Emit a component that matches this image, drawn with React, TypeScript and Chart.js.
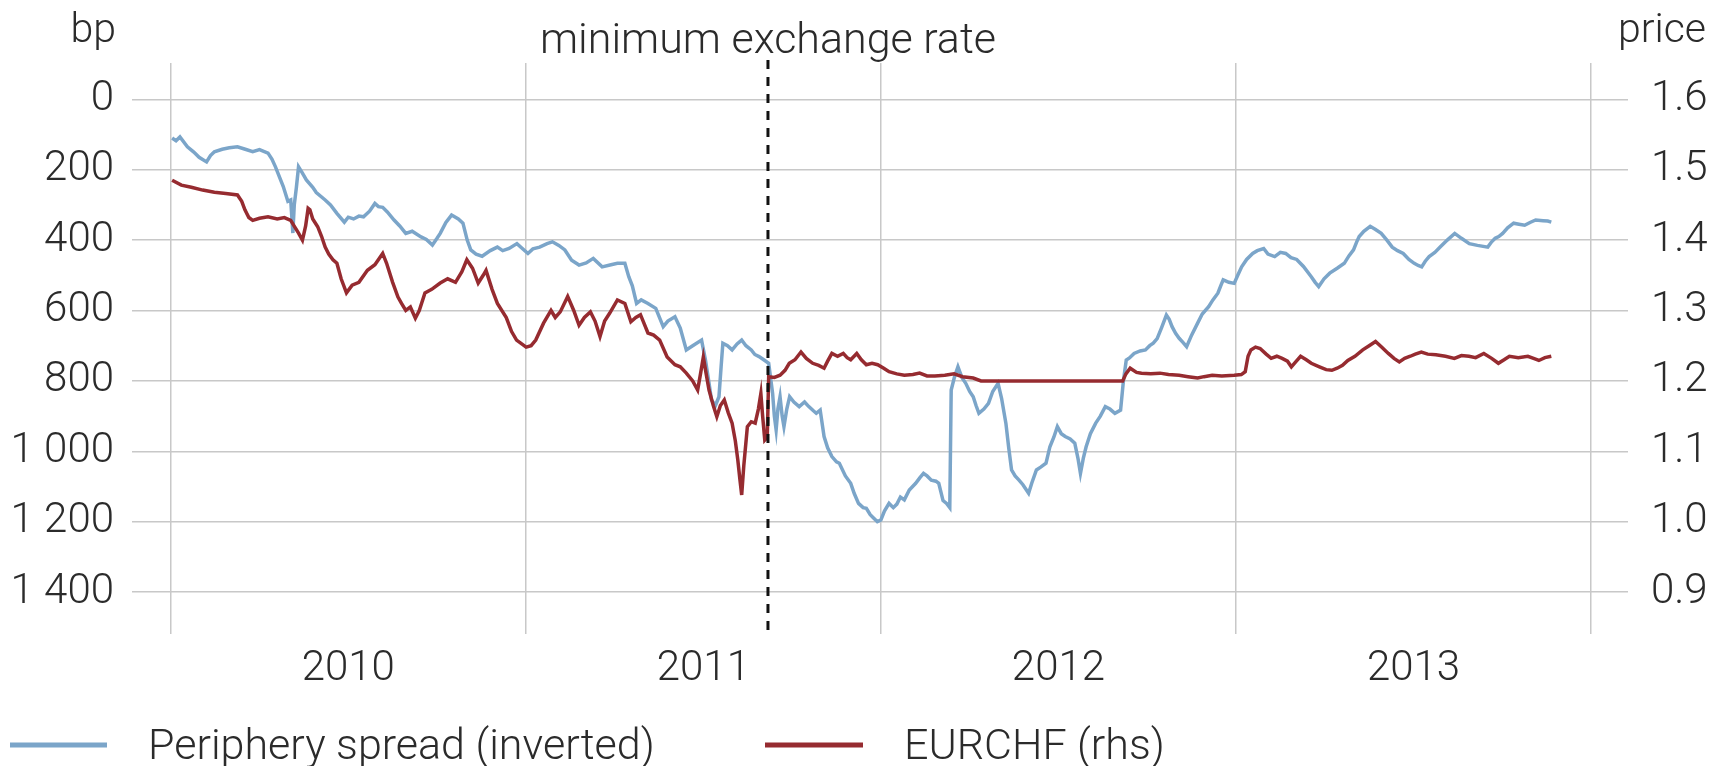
import React, { useEffect, useRef } from 'react';
import { Chart, registerables } from 'chart.js';

Chart.register(...registerables);

// ---- data (dates as decimal years) ----
const spreadDates = [
  2010.004, 2010.015, 2010.026, 2010.047, 2010.065, 2010.08, 2010.101, 2010.112, 2010.123, 2010.145,
  2010.165, 2010.188, 2010.21, 2010.231, 2010.25, 2010.274, 2010.285, 2010.295, 2010.317, 2010.33,
  2010.338, 2010.344, 2010.348, 2010.354, 2010.36, 2010.371, 2010.382, 2010.4, 2010.41, 2010.435,
  2010.45, 2010.468, 2010.489, 2010.5, 2010.515, 2010.53, 2010.543, 2010.56, 2010.575, 2010.585,
  2010.597, 2010.61, 2010.629, 2010.645, 2010.662, 2010.68, 2010.705, 2010.72, 2010.737, 2010.75,
  2010.759, 2010.775, 2010.791, 2010.81, 2010.823, 2010.835, 2010.845, 2010.86, 2010.877, 2010.9,
  2010.92, 2010.935, 2010.953, 2010.975, 2011.006, 2011.02, 2011.039, 2011.06, 2011.075, 2011.093,
  2011.11, 2011.129, 2011.15, 2011.17, 2011.19, 2011.215, 2011.24, 2011.258, 2011.279, 2011.29,
  2011.3, 2011.312, 2011.325, 2011.344, 2011.366, 2011.387, 2011.4, 2011.42, 2011.435, 2011.452,
  2011.47, 2011.495, 2011.506, 2011.515, 2011.523, 2011.534, 2011.544, 2011.55, 2011.555, 2011.568,
  2011.581, 2011.595, 2011.608, 2011.62, 2011.635, 2011.645, 2011.657, 2011.67, 2011.684, 2011.695,
  2011.7, 2011.705, 2011.71, 2011.716, 2011.722, 2011.727, 2011.735, 2011.743, 2011.755, 2011.77,
  2011.785, 2011.797, 2011.81, 2011.818, 2011.829, 2011.84, 2011.85, 2011.862, 2011.875, 2011.883,
  2011.9, 2011.915, 2011.925, 2011.937, 2011.95, 2011.959, 2011.97, 2011.98, 2011.99, 2012.0,
  2012.01, 2012.023, 2012.035, 2012.045, 2012.055, 2012.066, 2012.08, 2012.098, 2012.11, 2012.12,
  2012.13, 2012.142, 2012.155, 2012.163, 2012.175, 2012.185, 2012.194, 2012.198, 2012.207, 2012.217,
  2012.228, 2012.239, 2012.25, 2012.26, 2012.268, 2012.276, 2012.29, 2012.303, 2012.315, 2012.33,
  2012.34, 2012.352, 2012.36, 2012.368, 2012.378, 2012.389, 2012.4, 2012.416, 2012.425, 2012.438,
  2012.45, 2012.465, 2012.476, 2012.487, 2012.497, 2012.508, 2012.519, 2012.533, 2012.546, 2012.555,
  2012.562, 2012.57, 2012.578, 2012.59, 2012.605, 2012.618, 2012.632, 2012.645, 2012.659, 2012.675,
  2012.683, 2012.691, 2012.7, 2012.713, 2012.73, 2012.745, 2012.757, 2012.767, 2012.778, 2012.79,
  2012.804, 2012.812, 2012.82, 2012.83, 2012.84, 2012.85, 2012.861, 2012.875, 2012.892, 2012.905,
  2012.923, 2012.935, 2012.949, 2012.957, 2012.964, 2012.98, 2012.995, 2013.005, 2013.016, 2013.03,
  2013.047, 2013.06, 2013.078, 2013.09, 2013.109, 2013.125, 2013.14, 2013.155, 2013.171, 2013.19,
  2013.212, 2013.223, 2013.233, 2013.248, 2013.264, 2013.285, 2013.305, 2013.318, 2013.331, 2013.34,
  2013.347, 2013.36, 2013.378, 2013.393, 2013.409, 2013.425, 2013.44, 2013.455, 2013.471, 2013.487,
  2013.502, 2013.513, 2013.523, 2013.533, 2013.544, 2013.56, 2013.575, 2013.595, 2013.616, 2013.635,
  2013.657, 2013.68, 2013.709, 2013.72, 2013.73, 2013.74, 2013.751, 2013.765, 2013.782, 2013.797,
  2013.813, 2013.828, 2013.844, 2013.865, 2013.878, 2013.888,
];
const spreadBp = [
  110, 118, 107, 135, 150, 165, 178, 160, 149, 142,
  138, 135, 142, 149, 143, 153, 170, 192, 248, 290,
  286, 380, 300, 250, 192, 210, 229, 250, 265, 286,
  300, 324, 349, 335, 340, 332, 334, 318, 296, 305,
  307, 320, 343, 360, 381, 375, 391, 398, 414, 395,
  381, 350, 329, 340, 352, 400, 428, 440, 446, 430,
  420, 430, 424, 410, 438, 425, 420, 410, 405, 415,
  428, 457, 471, 465, 452, 476, 470, 466, 466, 504,
  530, 580, 570, 580, 594, 646, 630, 618, 650, 712,
  700, 684, 741, 800, 854, 870, 845, 760, 693, 700,
  712, 695, 684, 700, 712, 725, 731, 740, 750, 835,
  900, 939, 880, 845, 900, 930, 880, 845, 860, 873,
  860, 873, 885, 892, 883, 958, 990, 1015, 1030, 1034,
  1070, 1091, 1120, 1148, 1160, 1162, 1180, 1190, 1200, 1195,
  1170, 1148, 1160, 1150, 1130, 1138, 1110, 1091, 1075, 1063,
  1070, 1082, 1085, 1091, 1140, 1148, 1160, 826, 790, 760,
  790, 807, 830, 845, 870, 892, 880, 864, 830, 807,
  850, 920, 990, 1053, 1070, 1082, 1095, 1119, 1090, 1053,
  1045, 1034, 987, 960, 930, 950, 958, 965, 977, 1020,
  1063, 1020, 987, 950, 920, 900, 873, 880, 892, 883,
  800, 741, 735, 722, 715, 712, 700, 693, 680, 650,
  613, 625, 646, 665, 679, 690, 703, 670, 636, 610,
  589, 570, 551, 530, 513, 520, 523, 500, 476, 455,
  438, 430, 424, 440, 447, 435, 438, 450, 455, 475,
  504, 520, 532, 510, 494, 480, 466, 445, 428, 405,
  390, 375, 361, 370, 381, 400, 420, 430, 438, 455,
  466, 472, 476, 460, 447, 435, 420, 400, 381, 395,
  410, 415, 420, 405, 395, 390, 381, 365, 352, 355,
  358, 350, 343, 345, 346, 349,
];

const fxDates = [
  2010.004, 2010.03, 2010.058, 2010.09, 2010.123, 2010.155, 2010.188, 2010.2, 2010.209, 2010.22,
  2010.231, 2010.25, 2010.274, 2010.3, 2010.32, 2010.338, 2010.35, 2010.36, 2010.371, 2010.38,
  2010.387, 2010.392, 2010.4, 2010.414, 2010.425, 2010.435, 2010.445, 2010.457, 2010.468, 2010.48,
  2010.495, 2010.511, 2010.53, 2010.554, 2010.575, 2010.597, 2010.608, 2010.625, 2010.64, 2010.65,
  2010.662, 2010.675, 2010.689, 2010.7, 2010.716, 2010.735, 2010.759, 2010.78, 2010.802, 2010.82,
  2010.834, 2010.85, 2010.866, 2010.88, 2010.888, 2010.905, 2010.92, 2010.945, 2010.96, 2010.974,
  2011.001, 2011.015, 2011.028, 2011.05, 2011.071, 2011.083, 2011.097, 2011.118, 2011.135, 2011.15,
  2011.165, 2011.182, 2011.195, 2011.209, 2011.222, 2011.236, 2011.258, 2011.279, 2011.296, 2011.31,
  2011.323, 2011.344, 2011.36, 2011.377, 2011.398, 2011.42, 2011.435, 2011.452, 2011.47, 2011.484,
  2011.492, 2011.5, 2011.508, 2011.516, 2011.528, 2011.538, 2011.548, 2011.559, 2011.57, 2011.581,
  2011.59, 2011.597, 2011.603, 2011.608, 2011.614, 2011.624, 2011.635, 2011.646, 2011.655, 2011.662,
  2011.667, 2011.673, 2011.68, 2011.684, 2011.7, 2011.716, 2011.73, 2011.742, 2011.758, 2011.775,
  2011.79, 2011.808, 2011.825, 2011.84, 2011.85, 2011.862, 2011.878, 2011.894, 2011.905, 2011.915,
  2011.932, 2011.945, 2011.959, 2011.975, 2011.991, 2012.008, 2012.023, 2012.045, 2012.066, 2012.09,
  2012.109, 2012.13, 2012.152, 2012.18, 2012.206, 2012.23, 2012.26, 2012.282, 2012.4, 2012.55,
  2012.681, 2012.69, 2012.702, 2012.72, 2012.734, 2012.76, 2012.786, 2012.81, 2012.84, 2012.865,
  2012.892, 2012.91, 2012.933, 2012.96, 2012.995, 2013.015, 2013.026, 2013.034, 2013.042, 2013.055,
  2013.068, 2013.085, 2013.099, 2013.115, 2013.13, 2013.145, 2013.156, 2013.17, 2013.182, 2013.198,
  2013.212, 2013.235, 2013.254, 2013.27, 2013.285, 2013.3, 2013.315, 2013.335, 2013.357, 2013.375,
  2013.393, 2013.41, 2013.429, 2013.445, 2013.46, 2013.475, 2013.491, 2013.505, 2013.522, 2013.54,
  2013.563, 2013.59, 2013.615, 2013.635, 2013.656, 2013.675, 2013.698, 2013.72, 2013.739, 2013.755,
  2013.77, 2013.795, 2013.822, 2013.838, 2013.853, 2013.87, 2013.888,
];
const fxPrice = [
  1.485, 1.478, 1.475, 1.471, 1.468, 1.466, 1.464, 1.455, 1.443, 1.432,
  1.428, 1.431, 1.433, 1.43, 1.432, 1.428, 1.418, 1.41, 1.4, 1.42,
  1.445, 1.443, 1.43, 1.419, 1.405, 1.39, 1.38, 1.372, 1.367, 1.345,
  1.325, 1.336, 1.34, 1.357, 1.365, 1.381, 1.367, 1.34, 1.319, 1.31,
  1.3, 1.305, 1.289, 1.3, 1.325, 1.33, 1.339, 1.345, 1.34, 1.355,
  1.372, 1.36, 1.339, 1.35, 1.357, 1.33, 1.31, 1.29, 1.27, 1.258,
  1.248, 1.25, 1.258, 1.282, 1.3, 1.29, 1.298, 1.32, 1.3, 1.279,
  1.29, 1.298, 1.285, 1.263, 1.285, 1.296, 1.315, 1.31, 1.284, 1.29,
  1.294, 1.268, 1.265, 1.258, 1.234, 1.223, 1.22, 1.211, 1.2, 1.187,
  1.21, 1.234, 1.21, 1.187, 1.165, 1.149, 1.165, 1.173, 1.155, 1.14,
  1.115, 1.088, 1.06, 1.038, 1.08, 1.135, 1.142, 1.14, 1.16, 1.182,
  1.15, 1.116, 1.12, 1.206, 1.205, 1.208, 1.215, 1.225, 1.23, 1.241,
  1.232, 1.225, 1.222, 1.218, 1.228, 1.239, 1.235, 1.239, 1.233, 1.23,
  1.239, 1.23, 1.223, 1.225, 1.223, 1.218, 1.213, 1.21, 1.208, 1.209,
  1.211, 1.207, 1.207, 1.208, 1.21, 1.206, 1.204, 1.2, 1.2, 1.2,
  1.2, 1.21, 1.218, 1.212, 1.211, 1.21, 1.211, 1.209, 1.208, 1.206,
  1.204, 1.206, 1.208, 1.207, 1.208, 1.209, 1.213, 1.235, 1.244, 1.248,
  1.246, 1.238, 1.232, 1.235, 1.232, 1.228, 1.22, 1.228, 1.235, 1.23,
  1.225, 1.22, 1.216, 1.215, 1.218, 1.222, 1.229, 1.235, 1.244, 1.25,
  1.256, 1.248, 1.239, 1.232, 1.227, 1.232, 1.235, 1.238, 1.241, 1.238,
  1.237, 1.235, 1.232, 1.236, 1.235, 1.233, 1.239, 1.232, 1.225, 1.23,
  1.235, 1.233, 1.235, 1.232, 1.229, 1.233, 1.235,
];

const xTicks = [2010, 2010.5, 2011, 2011.5, 2012, 2012.5, 2013, 2013.5, 2014];
const bpTicks = [0, 200, 400, 600, 800, 1000, 1200, 1400];
const priceTicks = [0.9, 1.0, 1.1, 1.2, 1.3, 1.4, 1.5, 1.6];
const policyDate = 2011.682;
const policyLabel = 'minimum exchange rate';
const leftUnit = 'bp';
const rightUnit = 'price';
const seriesLabels = ['Periphery spread (inverted)', 'EURCHF (rhs)'];

// ---- styling ----
const W = 1725;
const H = 766;
const BLUE = '#7ba5c9';
const RED = '#962b30';
const GRID = '#c8c8c8';
const TEXT = '#2b2b2b';
const FAMILY = 'Roboto, "Liberation Sans", sans-serif';
const FS_TICK = 42;
const FS_TEXT = 43;
const FS_UNIT = 41;

const isYear = (v: any) => typeof v === 'number' && Math.abs(v - Math.round(v)) < 1e-6;
const fmtBp = (v: number) => String(Math.round(v)).replace(/\B(?=(\d{3})+(?!\d))/g, ' ');

export default function App() {
  const ref = useRef<HTMLCanvasElement>(null);

  useEffect(() => {
    document.body.style.margin = '0';
    const canvas = ref.current;
    if (!canvas) return;

    const annot = {
      id: 'annot',
      afterDatasetsDraw(chart: any) {
        const { ctx, chartArea } = chart;
        const xs = chart.scales.x;
        const px = xs.getPixelForValue(policyDate);
        ctx.save();
        ctx.strokeStyle = '#111';
        ctx.lineWidth = 3;
        ctx.setLineDash([9, 8]);
        ctx.beginPath();
        ctx.moveTo(px, chartArea.top - 3);
        ctx.lineTo(px, chartArea.bottom + 2);
        ctx.stroke();
        ctx.restore();
      },
      afterDraw(chart: any) {
        const { ctx } = chart;
        const xs = chart.scales.x;
        const px = xs.getPixelForValue(policyDate);
        ctx.save();
        ctx.fillStyle = TEXT;
        ctx.textBaseline = 'alphabetic';
        ctx.textAlign = 'center';
        ctx.font = `300 ${FS_TEXT}px ${FAMILY}`;
        ctx.fillText(policyLabel, px, 53);
        ctx.font = `300 ${FS_UNIT}px ${FAMILY}`;
        ctx.textAlign = 'right';
        ctx.fillText(leftUnit, 116, 42);
        ctx.fillText(rightUnit, 1706, 42);
        // legend
        const ly = 745;
        ctx.lineWidth = 5;
        ctx.setLineDash([]);
        ctx.strokeStyle = BLUE;
        ctx.beginPath();
        ctx.moveTo(10, ly);
        ctx.lineTo(107, ly);
        ctx.stroke();
        ctx.strokeStyle = RED;
        ctx.beginPath();
        ctx.moveTo(765, ly);
        ctx.lineTo(863, ly);
        ctx.stroke();
        ctx.font = `300 ${FS_TEXT}px ${FAMILY}`;
        ctx.textAlign = 'left';
        ctx.fillText(seriesLabels[0], 148, 759);
        ctx.fillText(seriesLabels[1], 904, 759);
        ctx.restore();
      },
    };

    const font = { family: FAMILY, size: FS_TICK, weight: '300' as any };

    const chart = new Chart(canvas, {
      type: 'line',
      data: {
        datasets: [
          {
            label: seriesLabels[0],
            data: spreadDates.map((d, i) => ({ x: d, y: spreadBp[i] })),
            yAxisID: 'y',
            borderColor: BLUE,
            borderWidth: 3.5,
            pointRadius: 0,
            tension: 0,
            fill: false,
            order: 2,
          },
          {
            label: seriesLabels[1],
            data: fxDates.map((d, i) => ({ x: d, y: fxPrice[i] })),
            yAxisID: 'y1',
            borderColor: RED,
            borderWidth: 3.5,
            pointRadius: 0,
            tension: 0,
            fill: false,
            order: 1,
          },
        ],
      },
      options: {
        responsive: false,
        animation: false,
        devicePixelRatio: 1,
        layout: { padding: { top: 63, left: 0, right: 0, bottom: 0 } },
        plugins: {
          legend: { display: false },
          tooltip: { enabled: false },
          title: { display: false },
        },
        scales: {
          x: {
            type: 'linear',
            min: 2009.891,
            max: 2014.104,
            afterBuildTicks: (s: any) => {
              s.ticks = xTicks.map((v) => ({ value: v }));
            },
            afterFit: (s: any) => {
              s.height = 132;
            },
            border: { display: false },
            grid: {
              color: (c: any) => (c.tick && isYear(c.tick.value) ? GRID : 'rgba(0,0,0,0)'),
              lineWidth: 1.5,
              drawTicks: false,
            },
            ticks: {
              autoSkip: false,
              maxRotation: 0,
              minRotation: 0,
              padding: 10,
              color: TEXT,
              font,
              callback: (v: any) => (isYear(Number(v)) ? '' : String(Math.floor(Number(v)))),
            },
          },
          y: {
            type: 'linear',
            position: 'left',
            reverse: true,
            min: -103,
            max: 1519,
            afterBuildTicks: (s: any) => {
              s.ticks = bpTicks.map((v) => ({ value: v }));
            },
            afterFit: (s: any) => {
              s.width = 132;
            },
            border: { display: false },
            grid: { color: GRID, lineWidth: 1.5, drawTicks: false },
            ticks: {
              padding: 18,
              color: TEXT,
              font,
              callback: (v: any) => fmtBp(Number(v)),
            },
          },
          y1: {
            type: 'linear',
            position: 'right',
            min: 0.8405,
            max: 1.6515,
            afterBuildTicks: (s: any) => {
              s.ticks = priceTicks.map((v) => ({ value: v }));
            },
            afterFit: (s: any) => {
              s.width = 97;
            },
            border: { display: false },
            grid: { drawOnChartArea: false, drawTicks: false },
            ticks: {
              padding: 23,
              color: TEXT,
              font,
              callback: (v: any) => Number(v).toFixed(1),
            },
          },
        },
      },
      plugins: [annot],
    });

    return () => chart.destroy();
  }, []);

  return (
    <div style={{ width: W, height: H }}>
      <canvas ref={ref} width={W} height={H} style={{ display: 'block', width: W, height: H }} />
    </div>
  );
}
